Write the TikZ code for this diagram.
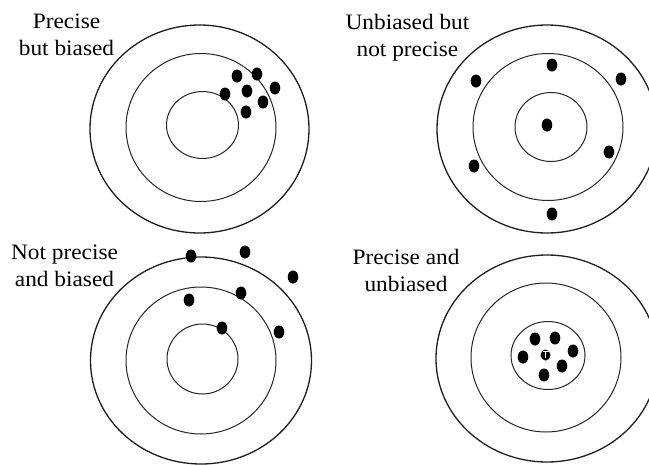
\documentclass[tikz,border=0pt]{standalone}
\usepackage{fontspec}
\setmainfont{Liberation Serif}[FakeStretch=1.06]
\begin{document}
\begin{tikzpicture}[x=1pt,y=-1pt,
  outerring/.style={draw=black!88, line width=1.3pt},
  ring/.style={draw=black!85, line width=1pt},
  hit/.style={fill=black},
  lbl/.style={anchor=north, inner sep=0pt, align=center,
              font=\fontsize{22}{27}\selectfont}]
\useasboundingbox (0,0) rectangle (649,464);
\clip (0,0) rectangle (649,464);
\fill[white] (0,0) rectangle (649,464);

% ---------- top left: precise but biased ----------
\draw[outerring] (199.5,129) ellipse [x radius=109.5, y radius=104];
\draw[ring] (201,127.5) ellipse [x radius=75, y radius=74];
\draw[ring] (202.5,125) ellipse [x radius=36, y radius=33.5];
\foreach \p in {(237,76),(257,74),(275,88),(225,94),(247,91),(263,102),(246,112)}
  \fill[hit] \p ellipse [x radius=5.3, y radius=6.5];
\node[lbl] (tl) at (66.5,14) {Precise\\but biased};

% ---------- top right: unbiased but not precise ----------
\draw[outerring] (547,129) ellipse [x radius=110, y radius=104];
\draw[ring] (548,127) ellipse [x radius=75, y radius=73.5];
\draw[ring] (551,127) ellipse [x radius=36, y radius=34.5];
\foreach \p in {(552,65),(476,81),(621,79),(547,125),(609,152),(474,166),(552,214)}
  \fill[hit] \p ellipse [x radius=5.3, y radius=6.5];
\node[lbl] (tr) at (407.5,14.5) {Unbiased but\\not precise};

% ---------- bottom left: not precise and biased ----------
\draw[outerring] (201,360.5) ellipse [x radius=110.5, y radius=103.5];
\draw[ring] (201,360.5) ellipse [x radius=75, y radius=73.5];
\draw[ring] (202.5,359) ellipse [x radius=35.5, y radius=35];
\foreach \p in {(191,256),(245,252),(293,277),(189,300),(241,293),(222,328),(279,332)}
  \fill[hit] \p ellipse [x radius=5.3, y radius=6.5];
\node[lbl] (bl) at (64.5,244.5) {Not precise\\and biased};

% ---------- bottom right: precise and unbiased ----------
\draw[outerring] (547,358.5) ellipse [x radius=111, y radius=103.5];
\draw[ring] (546,357.5) ellipse [x radius=75, y radius=74.5];
\draw[ring] (548,355.5) ellipse [x radius=37, y radius=34];
\foreach \p in {(535,339),(555,338),(573,351),(523,357),(562,366),(544,375)}
  \fill[hit] \p ellipse [x radius=5.3, y radius=6.5];
\fill[hit] (545.5,355) ellipse [x radius=5, y radius=5.5];
\draw[white, line width=1pt] (542.5,351.3) -- (548.5,351.3);
\draw[white, line width=1.2pt] (545.5,351.3) -- (545.5,358);
\node[lbl] (br) at (406,249.5) {Precise and\\unbiased};
\end{tikzpicture}
\end{document}
